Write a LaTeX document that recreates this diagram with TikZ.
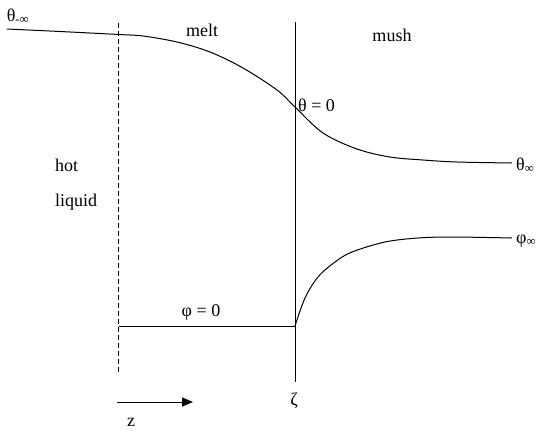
\documentclass[tikz,border=0pt]{standalone}
\usepackage{fontspec}
\setmainfont{Liberation Serif}
\usepackage{tikz}
\usetikzlibrary{arrows.meta,positioning,calc}

\tikzset{
  lbl/.style={inner sep=0pt,font=\fontsize{18}{21}\selectfont},
  curve/.style={line width=1pt,smooth,tension=0.55},
  front/.style={line width=1pt},
}

\begin{document}
\begin{tikzpicture}[x=1pt,y=-1pt]
    \useasboundingbox (0,0) rectangle (536,432);
    % boundaries
    \draw[line width=1pt,dash pattern=on 5pt off 3pt] (118.5,23) coordinate (dtop) -- (118.5,375) coordinate (dbot);
    \draw[front] (295,22) coordinate (stop) -- (295,382) coordinate (sbot);
    % temperature
    \draw[curve] plot coordinates {(7,29) (60,31.5) (119,34.5) (143,36) (177,42) (210,52) (243,68) (277,90) (295,107) (323,133) (357,149) (390,157) (423,160) (457,162) (512,163)};
    % solid fraction
    \coordinate (phistart) at (118.5,326);
    \coordinate (phiknee) at (295,326);
    \draw[front] (phistart) -- (phiknee);
    \draw[curve] plot coordinates {(295,326) (305,298) (318,277) (335,262) (352,252) (385,242) (418,238) (452,237) (512,238)};
    % labels
    \node[lbl] (thminf) at (18,16) {θ\textsubscript{-∞}};
    \node[lbl] (melt) at (202,30) {melt};
    \node[lbl] (mush) at (392,35) {mush};
    \node[lbl,anchor=west] (hot) at (55,165) {hot};
    \node[lbl,anchor=west] (liquid) at (55,202) {liquid};
    \node[lbl,anchor=west] (thzero) at (298,105) {θ = 0};
    \node[lbl,anchor=west] (thinf) at (516,165) {θ\textsubscript{∞}};
    \node[lbl,anchor=west] (phiinf) at (516,241) {φ\textsubscript{∞}};
    \node[lbl] (phizero) at (201,312) {φ = 0};
    \node[lbl] (zeta) at (294,401) {ζ};
    % direction
    \coordinate (zfrom) at (117,402);
    \coordinate (zto) at (193,402);
    \draw[line width=1pt,-{Triangle[length=11pt,width=9pt]}] (zfrom) -- (zto);
    \node[lbl] (zlab) at (131,422) {z};
\end{tikzpicture}
\end{document}
